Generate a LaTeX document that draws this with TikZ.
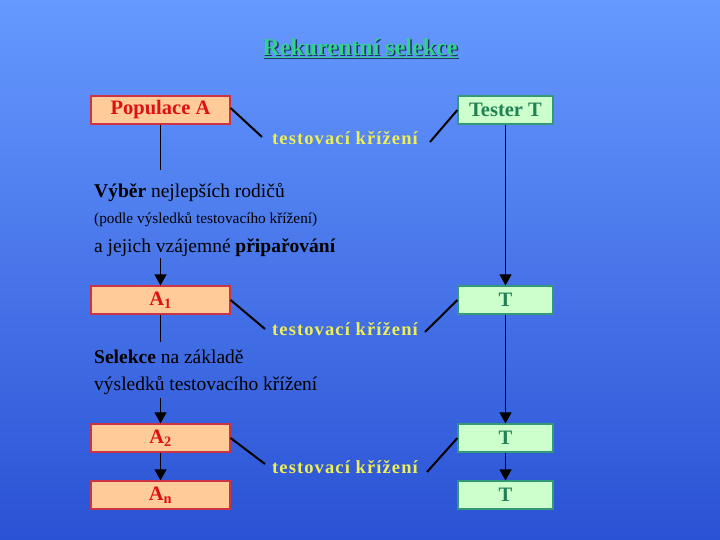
\documentclass[tikz,border=0pt]{standalone}
\usepackage{fontspec}
\setmainfont{Liberation Serif}
\usetikzlibrary{arrows.meta}

\definecolor{bgtop}{RGB}{102,153,255}
\definecolor{bgbot}{RGB}{42,82,212}
\definecolor{popfill}{RGB}{255,204,153}
\definecolor{popline}{RGB}{204,51,68}
\definecolor{poptext}{RGB}{221,17,17}
\definecolor{testfill}{RGB}{204,255,204}
\definecolor{testline}{RGB}{51,153,119}
\definecolor{testtext}{RGB}{34,128,85}
\definecolor{crosstext}{RGB}{238,238,85}
\definecolor{titlegreen}{RGB}{51,210,140}
\definecolor{shadow}{RGB}{30,50,110}

\tikzset{
  popbox/.style={draw=popline,fill=popfill,line width=1.2pt,minimum width=139pt,
    minimum height=28pt,inner sep=0pt,text=poptext,font=\fontsize{20.5}{22}\selectfont\bfseries},
  testbox/.style={draw=testline,fill=testfill,line width=1.2pt,minimum width=95pt,
    minimum height=28pt,inner sep=0pt,text=testtext,font=\fontsize{20.5}{22}\selectfont\bfseries},
  crossing/.style={text=crosstext,inner sep=0pt,
    font=\fontsize{18.5}{20}\selectfont\bfseries\addfontfeatures{LetterSpace=6}},
  note/.style={anchor=base west,inner sep=0pt,text=black,
    font=\fontsize{19.5}{27}\selectfont},
  heading/.style={font=\fontsize{24}{28}\selectfont\bfseries},
  link/.style={line width=2pt,black},
  flow/.style={line width=1.1pt,black,-{Triangle[length=11pt,width=12pt]}},
  stem/.style={line width=1.1pt,black}
}

\begin{document}
\begin{tikzpicture}[x=1pt,y=-1pt]
\shade[top color=bgtop,bottom color=bgbot] (0,0) rectangle (720,540);
\useasboundingbox (0,0) rectangle (720,540);

% title
\node[heading,text=shadow] at (361.5,49.5) {\underline{Rekurentní selekce}};
\node (title) [heading,text=titlegreen] at (360,48) {\underline{Rekurentní selekce}};

% left column
\node (pop) [popbox] at (160.5,110) {Populace A};
\node (a1) [popbox] at (160.5,300) {A\textsubscript{1}};
\node (a2) [popbox] at (160.5,438) {A\textsubscript{2}};
\node (an) [popbox] at (160.5,495) {A\textsubscript{n}};

% right column
\node (tester) [testbox] at (505.5,110) {Tester T};
\node (t1) [testbox] at (505.5,300) {T};
\node (t2) [testbox] at (505.5,438) {T};
\node (t3) [testbox] at (505.5,495) {T};

% crossings
\node (cross1) [crossing] at (345,138) {testovací křížení};
\node (cross2) [crossing] at (345,329) {testovací křížení};
\node (cross3) [crossing] at (345,467) {testovací křížení};

% notes
\node (vyber) [note] at (94,198) {\textbf{Výběr} nejlepších rodičů};
\node (podle) [note,font=\fontsize{15.3}{18}\selectfont] at (94,223) {(podle výsledků testovacího křížení)};
\node (vzajem) [note] at (94,252) {a jejich vzájemné \textbf{připařování}};
\node (selekce) [note] at (94,363) {\textbf{Selekce} na základě};
\node (vysledky) [note] at (94,390) {výsledků testovacího křížení};

\coordinate (c1a) at (262,137);
\coordinate (c1b) at (430,142);
\coordinate (c2a) at (265,329);
\coordinate (c2b) at (425,332);
\coordinate (c3a) at (265,464);
\coordinate (c3b) at (427,472);

\draw[link] (pop.east) ++(0,-2) -- (c1a);
\draw[link] (c1b) -- (tester.west);
\draw[link] (a1.east) -- (c2a);
\draw[link] (c2b) -- (t1.west);
\draw[link] (a2.east) -- (c3a);
\draw[link] (c3b) -- (t2.west);

\draw[stem] (pop.south) -- (pop.south |- 0,170);
\draw[flow] (pop.south |- 0,258) -- (a1.north);
\draw[stem] (a1.south) -- (a1.south |- 0,342);
\draw[flow] (a1.south |- 0,398) -- (a2.north);
\draw[flow] (a2.south) -- (an.north);

\draw[flow] (tester.south) -- (t1.north);
\draw[flow] (t1.south) -- (t2.north);
\draw[flow] (t2.south) -- (t3.north);
\end{tikzpicture}
\end{document}
